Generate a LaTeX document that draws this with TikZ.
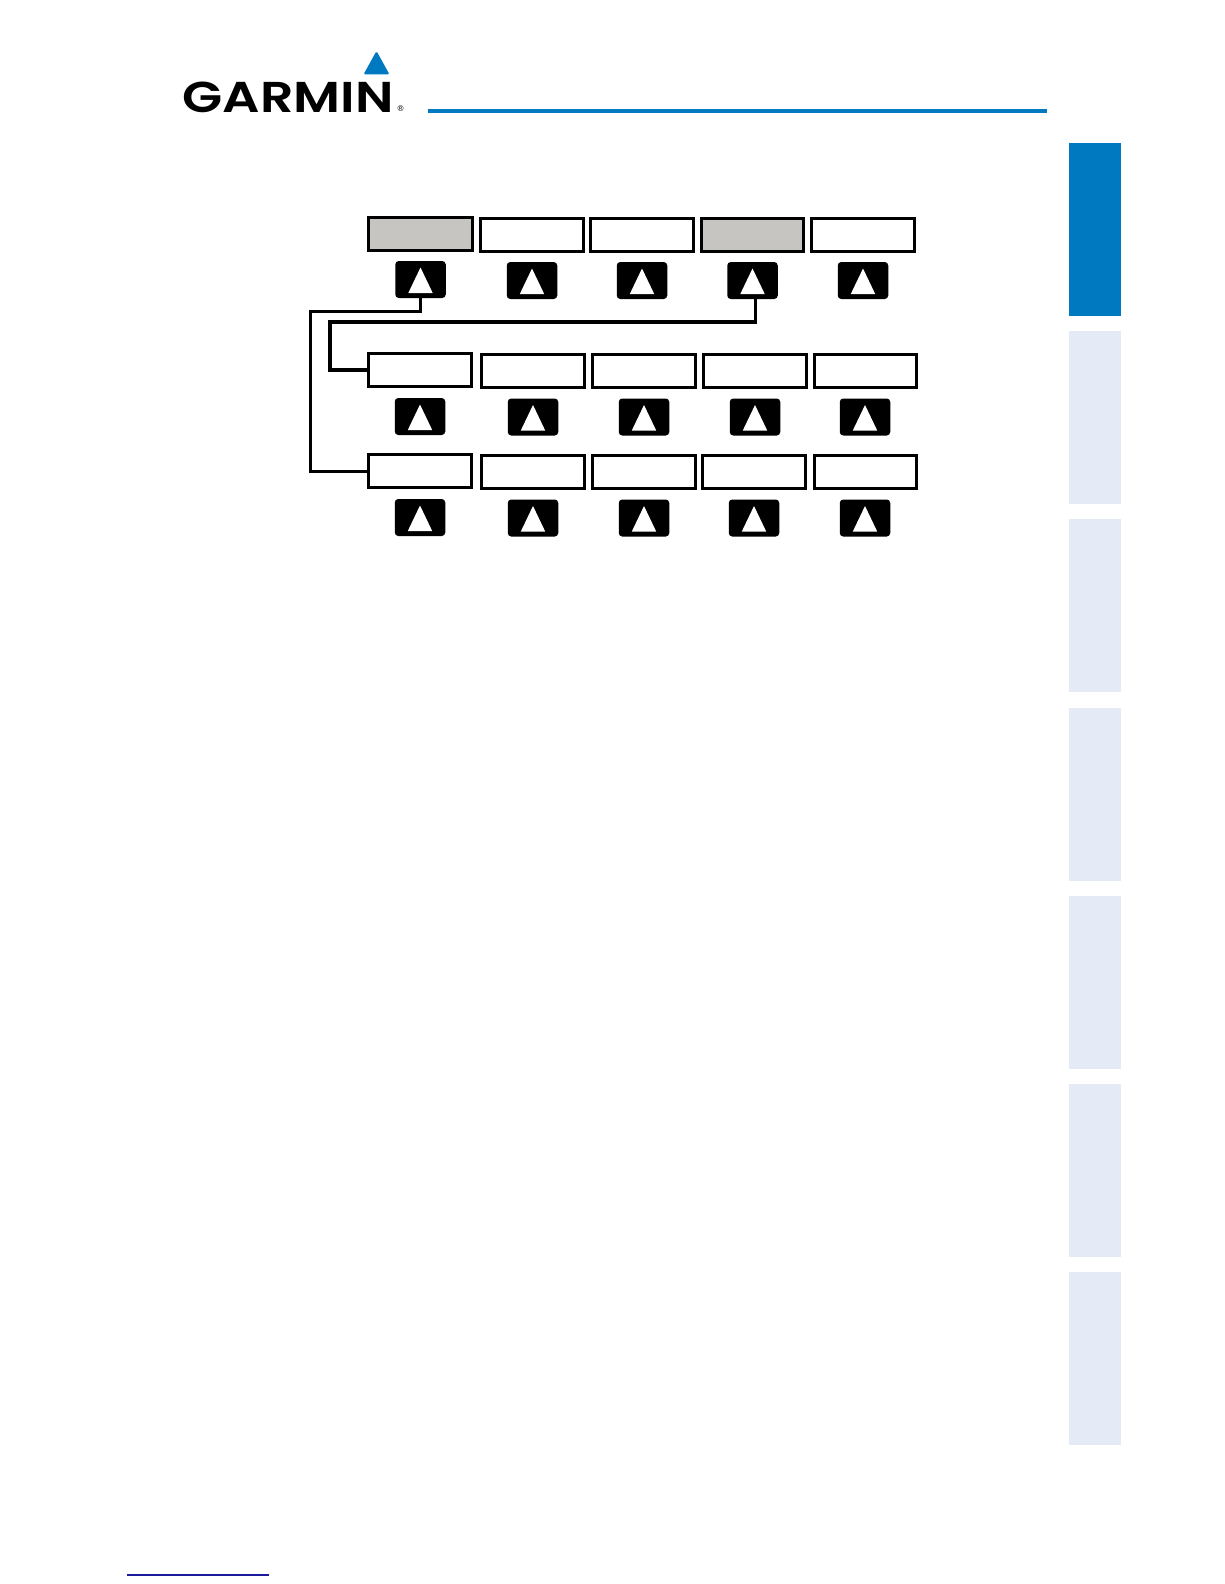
\documentclass[tikz,border=0pt]{standalone}
\usepackage{fontspec}
\setmainfont{Poppins}
\newfontfamily\regfont{DejaVu Sans}
\definecolor{gblue}{HTML}{0079C1}
\definecolor{gtab}{HTML}{E4EAF6}
\definecolor{ggrey}{HTML}{C6C5C1}
\definecolor{gnavy}{HTML}{1A1A9A}
\tikzset{
  softkey/.style={draw=black,line width=3pt,fill=white,minimum width=#1-3pt,minimum height=33pt,inner sep=0pt,outer sep=0pt},
  softkey/.default=106pt,
  activekey/.style={softkey=#1,fill=ggrey},
  activekey/.default=106pt,
  hardkey/.style={fill=black,rounded corners=3.5pt,minimum width=50.5pt,minimum height=37pt,inner sep=0pt,outer sep=0pt},
  tri/.style={fill=white,draw=none},
  link/.style={draw=black,line width=3pt,line join=miter},
  tab/.style={fill=gtab,draw=none},
}
\newcommand{\keyat}[3]{%
  \node[hardkey] (#1) at (#2,#3) {};
  \fill[tri] (#2,#3-12) -- (#2+12.2,#3+13.5) -- (#2-12.2,#3+13.5) -- cycle;
}
\begin{document}
\begin{tikzpicture}[x=1pt,y=-1pt]
\useasboundingbox (0,0) rectangle (1224,1584);
\fill[white] (0,0) rectangle (1224,1584);
% logo
\node[inner sep=0pt,anchor=south west] (logo) at (182.5,112.5) {\resizebox{211pt}{30.5pt}{\fontspec{Poppins SemiBold}GARMIN}};
\node[inner sep=0pt,font=\regfont\fontsize{8}{8}\selectfont] (reg) at (400.5,108.5) {®};
\fill[gblue,rounded corners=1.5pt] (376.5,51) -- (389.5,74.5) -- (363.5,74.5) -- cycle;
\fill[gblue] (428,108.8) rectangle (1047,112.6);
% tabs
\fill[gblue] (1069,143) rectangle (1121,316);
\foreach \ty in {331,519,708,896,1084,1272} \fill[tab] (1069,\ty) rectangle (1121,\ty+173);
% bottom rule
\fill[gnavy] (127,1574.4) rectangle (269,1575.6);
% row 1
\node[activekey=107pt] (s11) at (420.5,234) {};
\node[softkey] (s12) at (532,234.8) {};
\node[softkey] (s13) at (642,234.8) {};
\node[activekey=105pt] (s14) at (752.5,234.8) {};
\node[softkey] (s15) at (863,234.8) {};
\keyat{k11}{420.5}{279.5}
\keyat{k12}{532}{280.5}
\keyat{k13}{642}{280.5}
\keyat{k14}{752.5}{280.5}
\keyat{k15}{863}{280.5}
% row 2
\node[softkey] (s21) at (420,370) {};
\node[softkey] (s22) at (533,371) {};
\node[softkey] (s23) at (644,371) {};
\node[softkey] (s24) at (755,371) {};
\node[softkey=105pt,line width=2.4pt] (s25) at (865.5,371) {};
\keyat{k21}{420}{416.5}
\keyat{k22}{533}{417}
\keyat{k23}{644}{417}
\keyat{k24}{755}{417}
\keyat{k25}{865}{417}
% row 3
\node[softkey] (s31) at (420,471) {};
\node[softkey] (s32) at (533,472) {};
\node[softkey] (s33) at (644,472) {};
\node[softkey] (s34) at (754,472) {};
\node[softkey=105pt,line width=2.4pt] (s35) at (865.5,472) {};
\keyat{k31}{420}{517.5}
\keyat{k32}{533}{518}
\keyat{k33}{644}{518}
\keyat{k34}{754}{518}
\keyat{k35}{865}{518}
% connectors
\coordinate (c1) at (310,311);
\coordinate (c2) at (330,322);
\draw[link] (k11.south) |- (c1) |- (s31.west);
\draw[link,line width=3.2pt] ([xshift=3.2pt]k14.south) |- (c2) |- (s21.west);
\end{tikzpicture}
\end{document}
